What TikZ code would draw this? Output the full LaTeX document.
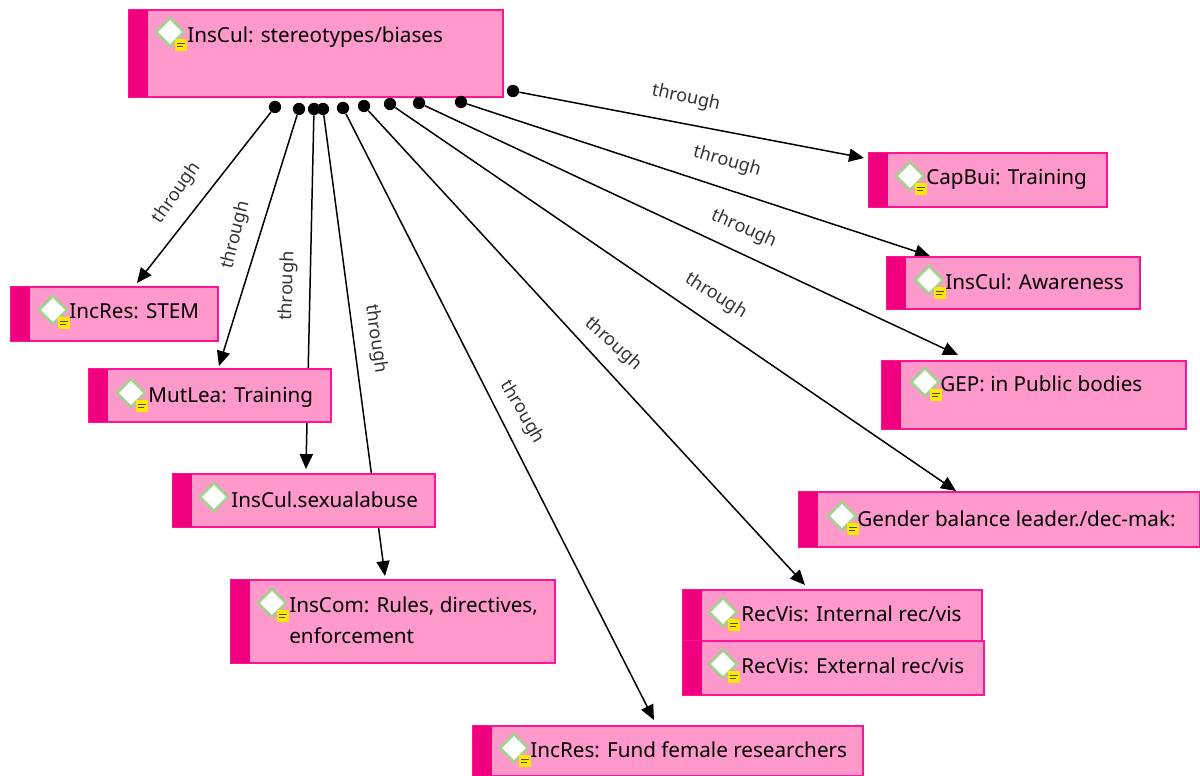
\documentclass[tikz,border=0pt]{standalone}
\usepackage{fontspec}
\setmainfont{Noto Sans}
\usepackage{xcolor}
\usetikzlibrary{arrows.meta, positioning, shapes, backgrounds}
\usetikzlibrary{shapes.geometric}
\definecolor{boxfill}{HTML}{FF99CC}
\definecolor{boxline}{HTML}{FF1493}
\definecolor{barfill}{HTML}{F0007F}
\definecolor{icongreen}{HTML}{A5CF8F}
\tikzset{
	boxbody/.style={draw=boxline, fill=boxfill, line width=0.9pt, anchor=north west, inner sep=0pt, outer sep=0pt, minimum width=#1},
	boxbar/.style={fill=barfill},
	boxtext/.style={anchor=west, inner sep=0pt, yshift=-1.1pt, font=\fontsize{11.75}{16}\selectfont, text=black},
	enddot/.style={circle, fill=black, inner sep=0pt, minimum size=7pt},
	link/.style={draw=black, line width=0.85pt, -{Triangle[length=8.5pt, width=7.5pt]}},
	linklabel/.style={font=\fontsize{10.3}{12}\selectfont, text=black!80, inner sep=0pt},
	notemark/.pic={
		\node[diamond, draw=icongreen, fill=white, line width=1.5pt, minimum size=16.5pt, inner sep=0pt] (-d) at (0,0) {};
		\node[fill=yellow!90!orange, inner sep=0pt, minimum width=7pt, minimum height=7pt] (-n) at (11,13) {};
		\draw[black!70, line width=0.6pt] ([xshift=1.5pt, yshift=1pt]-n.west) -- ([xshift=-1.5pt, yshift=1pt]-n.east);
		\draw[black!70, line width=0.6pt] ([xshift=1.5pt, yshift=-1pt]-n.west) -- ([xshift=-2.5pt, yshift=-1pt]-n.east);
	},
	plainmark/.pic={
		\node[diamond, draw=icongreen, fill=white, line width=1.5pt, minimum size=16.5pt, inner sep=0pt] (-d) at (0,0) {};
	}
}
\begin{document}
\begin{tikzpicture}[x=0.02cm, y=-0.02cm]
	\useasboundingbox (0, 0) rectangle (1200, 776);
	
	% main box
	\node[boxbody=74.8mm, minimum height=17.4mm] (stereo) at (129, 10) {};
	\fill[boxbar] (stereo.south west) rectangle ([xshift=3.8mm]stereo.north west);
	\pic (stereoicon) at (170, 32) {notemark};
	\node[boxtext] (stereotext) at (187, 35) {InsCul: stereotypes/biases};
	
	% CapBui
	\node[boxbody=47.6mm, minimum height=10.8mm] (capbui) at (869, 153) {};
	\fill[boxbar] (capbui.south west) rectangle ([xshift=3.8mm]capbui.north west);
	\pic (capbuiicon) at (910, 176) {notemark};
	\node[boxtext] (capbuitext) at (926, 177) {CapBui: Training};
	
	% Awareness
	\node[boxbody=50.6mm, minimum height=10.4mm] (aware) at (887, 257) {};
	\fill[boxbar] (aware.south west) rectangle ([xshift=3.8mm]aware.north west);
	\pic (awareicon) at (929, 280) {notemark};
	\node[boxtext] (awaretext) at (945, 279.5) {InsCul: Awareness};
	
	% GEP
	\node[boxbody=60.8mm, minimum height=13.6mm] (gep) at (882, 361) {};
	\fill[boxbar] (gep.south west) rectangle ([xshift=3.8mm]gep.north west);
	\pic (gepicon) at (925, 382) {notemark};
	\node[boxtext] (geptext) at (940, 381.5) {GEP: in Public bodies};
	
	% Gender balance
	\node[boxbody=80.2mm, minimum height=11mm] (gender) at (799, 492) {};
	\fill[boxbar] (gender.south west) rectangle ([xshift=3.8mm]gender.north west);
	\pic (gendericon) at (842, 516) {notemark};
	\node[boxtext] (gendertext) at (857, 517) {Gender balance leader./dec-mak:};
	
	% RecVis
	\node[boxbody=59.8mm, minimum height=10.2mm] (recint) at (683, 590) {};
	\fill[boxbar] (recint.south west) rectangle ([xshift=3.8mm]recint.north west);
	\pic (recinticon) at (723, 612) {notemark};
	\node[boxtext] (recinttext) at (741, 612) {RecVis: Internal rec/vis};
	\node[boxbody=60.2mm, minimum height=10.8mm] (recext) at (683, 641) {};
	\fill[boxbar] (recext.south west) rectangle ([xshift=3.8mm]recext.north west);
	\pic (recexticon) at (723, 664) {notemark};
	\node[boxtext] (recexttext) at (741, 664) {RecVis: External rec/vis};
	
	% Fund
	\node[boxbody=78mm, minimum height=10mm] (fund) at (473, 726) {};
	\fill[boxbar] (fund.south west) rectangle ([xshift=3.8mm]fund.north west);
	\pic (fundicon) at (514, 748) {notemark};
	\node[boxtext] (fundtext) at (530, 747.5) {IncRes: Fund female researchers};
	
	% InsCom
	\node[boxbody=64.8mm, minimum height=16.6mm] (inscom) at (231, 580) {};
	\fill[boxbar] (inscom.south west) rectangle ([xshift=3.8mm]inscom.north west);
	\pic (inscomicon) at (272, 603) {notemark};
	\node[boxtext] (inscomtext) at (289, 604) {InsCom: Rules, directives,};
	\node[boxtext] (inscomtexttwo) at (289, 633.5) {enforcement};
	
	% sexual abuse
	\node[boxbody=52.4mm, minimum height=10.6mm] (sexual) at (173, 474) {};
	\fill[boxbar] (sexual.south west) rectangle ([xshift=3.8mm]sexual.north west);
	\pic (sexualicon) at (214, 497) {plainmark};
	\node[boxtext] (sexualtext) at (231, 497.5) {InsCul.sexualabuse};
	
	% MutLea
	\node[boxbody=48.4mm, minimum height=10.6mm] (mutlea) at (89, 369) {};
	\fill[boxbar] (mutlea.south west) rectangle ([xshift=3.8mm]mutlea.north west);
	\pic (mutleaicon) at (131, 393) {notemark};
	\node[boxtext] (mutleatext) at (148, 395) {MutLea: Training};
	
	% STEM
	\node[boxbody=41.4mm, minimum height=10.8mm] (stem) at (11, 287) {};
	\fill[boxbar] (stem.south west) rectangle ([xshift=3.8mm]stem.north west);
	\pic (stemicon) at (53, 310) {notemark};
	\node[boxtext] (stemtext) at (69, 309.5) {IncRes: STEM};
	
	% dots under the main box
	\node[enddot] (dotcapbui) at (513, 91) {};
	\node[enddot] (dotaware) at (461, 102) {};
	\node[enddot] (dotgep) at (419, 103) {};
	\node[enddot] (dotgender) at (390, 104) {};
	\node[enddot] (dotrec) at (364, 106) {};
	\node[enddot] (dotfund) at (343, 108) {};
	\node[enddot] (dotinscom) at (323, 109) {};
	\node[enddot] (dotsexual) at (314, 109) {};
	\node[enddot] (dotmutlea) at (299, 109) {};
	\node[enddot] (dotstem) at (275, 107) {};
	
	% arrows, behind the boxes
	\begin{scope}[on background layer]
		\draw[link] (dotcapbui) -- ([xshift=-1mm, yshift=-1mm]capbui.north west);
		\draw[link] (dotaware) -- ([xshift=8.6mm, yshift=0.2mm]aware.north west);
		\draw[link] (dotgep) -- ([xshift=15.2mm, yshift=1.2mm]gep.north west);
		\draw[link] (dotgender) -- ([xshift=31.4mm, yshift=0.2mm]gender.north west);
		\draw[link] (dotrec) -- ([xshift=24.4mm, yshift=1mm]recint.north west);
		\draw[link] (dotfund) -- ([xshift=36.2mm, yshift=1.2mm]fund.north west);
		\draw[link] (dotinscom) -- ([xshift=30.8mm, yshift=0.8mm]inscom.north west);
		\draw[link] (dotsexual) -- ([xshift=26.6mm, yshift=1mm]sexual.north west);
		\draw[link] (dotmutlea) -- ([xshift=26mm, yshift=0.6mm]mutlea.north west);
		\draw[link] (dotstem) -- ([xshift=25.2mm, yshift=0.8mm]stem.north west);
	\end{scope}
	
	% labels
	\node[linklabel, rotate=-12] (lblcapbui) at (686, 98) {through};
	\node[linklabel, rotate=-16] (lblaware) at (727, 162) {through};
	\node[linklabel, rotate=-24] (lblgep) at (744, 229) {through};
	\node[linklabel, rotate=-32] (lblgender) at (716, 296) {through};
	\node[linklabel, rotate=-42] (lblrec) at (613, 344) {through};
	\node[linklabel, rotate=-60] (lblfund) at (522, 412) {through};
	\node[linklabel, rotate=-82] (lblinscom) at (376, 339) {through};
	\node[linklabel, rotate=88] (lblsexual) at (288, 286) {through};
	\node[linklabel, rotate=76] (lblmutlea) at (236, 235) {through};
	\node[linklabel, rotate=55] (lblstem) at (177, 193) {through};
	
\end{tikzpicture}
\end{document}
